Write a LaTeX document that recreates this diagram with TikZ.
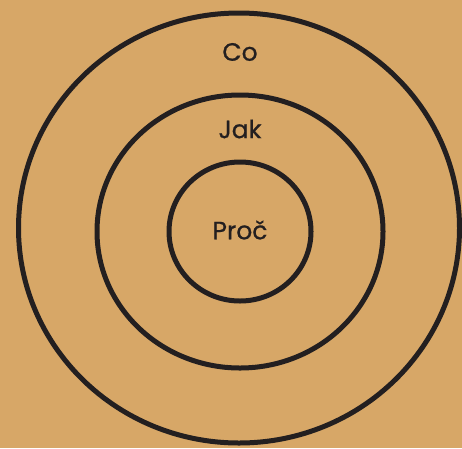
\documentclass[tikz,border=0pt]{standalone}
\usepackage{fontspec}
\setmainfont{Poppins}
\newfontfamily\lblfont[FakeBold=0.8]{Poppins}
\definecolor{bg}{HTML}{D7A767}
\definecolor{ink}{HTML}{231F20}
\begin{document}
\begin{tikzpicture}[x=1pt,y=-1pt,
  ring/.style={draw=ink,line width=5pt},
  lbl/.style={text=ink,font=\lblfont\fontsize{25}{28}\selectfont,inner sep=0pt}]
\fill[bg] (0,0) rectangle (462,448);
\useasboundingbox (0,0) rectangle (462,448);
\draw[ring] (239,228) ellipse [x radius=220.5, y radius=215];
\draw[ring] (240,231.5) ellipse [x radius=143, y radius=136.5];
\draw[ring] (240,231.5) ellipse [x radius=71, y radius=69.5];
\node[lbl] (co) at (240,52) {Co};
\node[lbl] (jak) at (240,129) {Jak};
\node[lbl] (proc) at (240,230) {Proč};
\end{tikzpicture}
\end{document}
